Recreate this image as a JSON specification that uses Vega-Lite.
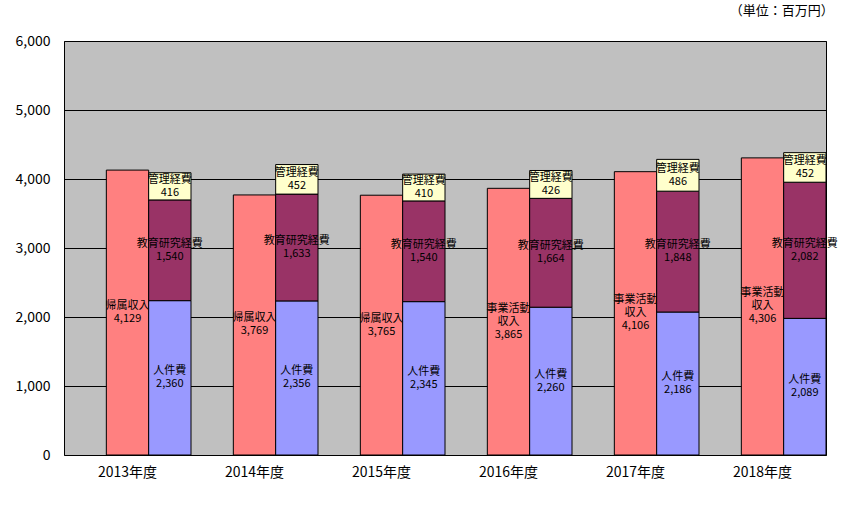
{
  "$schema": "https://vega.github.io/schema/vega-lite/v6.json",
  "autosize": "none",
  "width": 762,
  "height": 414,
  "padding": {"left": 64, "top": 41, "right": 24, "bottom": 50},
  "background": "white",
  "title": {
    "text": "（単位：百万円）",
    "anchor": "end",
    "offset": 16,
    "dx": -4,
    "fontSize": 13,
    "fontWeight": "normal",
    "font": "Noto Sans CJK JP",
    "color": "black"
  },
  "config": {
    "view": {"fill": "#C0C0C0", "stroke": "black", "strokeWidth": 1},
    "axis": {
      "labelFont": "Noto Sans CJK JP",
      "labelFontSize": 14,
      "labelColor": "black",
      "ticks": false,
      "domain": false,
      "title": null
    },
    "text": {"font": "Noto Sans CJK JP", "fontSize": 11, "color": "black", "lineBreak": "\n", "lineHeight": 13, "baseline": "middle"}
  },
  "data": {
    "values": [
      {"year": "2013年度", "group": "収入", "item": "帰属収入", "value": 4129},
      {"year": "2014年度", "group": "収入", "item": "帰属収入", "value": 3769},
      {"year": "2015年度", "group": "収入", "item": "帰属収入", "value": 3765},
      {"year": "2016年度", "group": "収入", "item": "事業活動収入", "value": 3865},
      {"year": "2017年度", "group": "収入", "item": "事業活動収入", "value": 4106},
      {"year": "2018年度", "group": "収入", "item": "事業活動収入", "value": 4306},
      {"year": "2013年度", "group": "支出", "item": "人件費", "value": 2360},
      {"year": "2014年度", "group": "支出", "item": "人件費", "value": 2356},
      {"year": "2015年度", "group": "支出", "item": "人件費", "value": 2345},
      {"year": "2016年度", "group": "支出", "item": "人件費", "value": 2260},
      {"year": "2017年度", "group": "支出", "item": "人件費", "value": 2186},
      {"year": "2018年度", "group": "支出", "item": "人件費", "value": 2089},
      {"year": "2013年度", "group": "支出", "item": "教育研究経費", "value": 1540},
      {"year": "2014年度", "group": "支出", "item": "教育研究経費", "value": 1633},
      {"year": "2015年度", "group": "支出", "item": "教育研究経費", "value": 1540},
      {"year": "2016年度", "group": "支出", "item": "教育研究経費", "value": 1664},
      {"year": "2017年度", "group": "支出", "item": "教育研究経費", "value": 1848},
      {"year": "2018年度", "group": "支出", "item": "教育研究経費", "value": 2082},
      {"year": "2013年度", "group": "支出", "item": "管理経費", "value": 416},
      {"year": "2014年度", "group": "支出", "item": "管理経費", "value": 452},
      {"year": "2015年度", "group": "支出", "item": "管理経費", "value": 410},
      {"year": "2016年度", "group": "支出", "item": "管理経費", "value": 426},
      {"year": "2017年度", "group": "支出", "item": "管理経費", "value": 486},
      {"year": "2018年度", "group": "支出", "item": "管理経費", "value": 452}
    ]
  },
  "layer": [
    {
      "transform": [
        {"filter": "datum.group === '収入'"},
        {"calculate": "datum.value / 2", "as": "mid"},
        {"calculate": "format(datum.value, ',')", "as": "valueText"}
      ],
      "encoding": {
        "x": {
          "field": "year",
          "type": "nominal",
          "scale": {"paddingInner": 0, "paddingOuter": 0},
          "axis": {"labelAngle": 0, "labelPadding": 10}
        },
        "xOffset": {
          "field": "group",
          "type": "nominal",
          "scale": {"domain": ["", "収入", "支出"], "paddingInner": 0, "paddingOuter": 0}
        }
      },
      "layer": [
        {
          "mark": {"type": "bar", "fill": "#FF8080", "stroke": "black", "strokeWidth": 1},
          "encoding": {
            "y": {
              "field": "value",
              "type": "quantitative",
              "scale": {"domain": [0, 6000], "nice": false},
              "axis": {
                "values": [0, 1000, 2000, 3000, 4000, 5000, 6000],
                "format": ",.0f",
                "labelPadding": 14,
                "grid": true,
                "gridColor": "black",
                "gridOpacity": 1,
                "gridWidth": 1
              }
            }
          }
        },
        {
          "transform": [{"filter": "datum.item === '帰属収入'"}],
          "mark": {"type": "text", "dy": -6.5},
          "encoding": {
            "y": {"field": "mid", "type": "quantitative"},
            "text": {"field": "item"}
          }
        },
        {
          "transform": [{"filter": "datum.item === '帰属収入'"}],
          "mark": {"type": "text", "dy": 6.5},
          "encoding": {
            "y": {"field": "mid", "type": "quantitative"},
            "text": {"field": "valueText"}
          }
        },
        {
          "transform": [{"filter": "datum.item === '事業活動収入'"}],
          "mark": {"type": "text", "dy": -13},
          "encoding": {
            "y": {"field": "mid", "type": "quantitative"},
            "text": {"value": "事業活動\n収入"}
          }
        },
        {
          "transform": [{"filter": "datum.item === '事業活動収入'"}],
          "mark": {"type": "text", "dy": 13},
          "encoding": {
            "y": {"field": "mid", "type": "quantitative"},
            "text": {"field": "valueText"}
          }
        }
      ]
    },
    {
      "transform": [
        {"filter": "datum.group === '支出'"},
        {"stack": "value", "groupby": ["year"], "sort": [{"field": "item", "order": "ascending"}], "as": ["v0", "v1"]},
        {"calculate": "(datum.v0 + datum.v1) / 2", "as": "mid"},
        {"calculate": "format(datum.value, ',')", "as": "valueText"}
      ],
      "encoding": {
        "x": {
          "field": "year",
          "type": "nominal",
          "scale": {"paddingInner": 0, "paddingOuter": 0}
        },
        "xOffset": {
          "field": "group",
          "type": "nominal",
          "scale": {"domain": ["", "収入", "支出"], "paddingInner": 0, "paddingOuter": 0}
        }
      },
      "layer": [
        {
          "mark": {"type": "bar", "stroke": "black", "strokeWidth": 1},
          "encoding": {
            "y": {
              "field": "v0",
              "type": "quantitative",
              "scale": {"domain": [0, 6330], "nice": false},
              "axis": null
            },
            "y2": {"field": "v1"},
            "color": {
              "field": "item",
              "type": "nominal",
              "scale": {
                "domain": ["人件費", "教育研究経費", "管理経費"],
                "range": ["#9999FF", "#993366", "#FFFFCC"]
              },
              "legend": null
            }
          }
        },
        {
          "mark": {"type": "text", "dy": -6.5},
          "encoding": {
            "y": {"field": "mid", "type": "quantitative"},
            "text": {"field": "item"}
          }
        },
        {
          "mark": {"type": "text", "dy": 6.5},
          "encoding": {
            "y": {"field": "mid", "type": "quantitative"},
            "text": {"field": "valueText"}
          }
        }
      ]
    }
  ],
  "resolve": {"scale": {"y": "independent"}}
}
